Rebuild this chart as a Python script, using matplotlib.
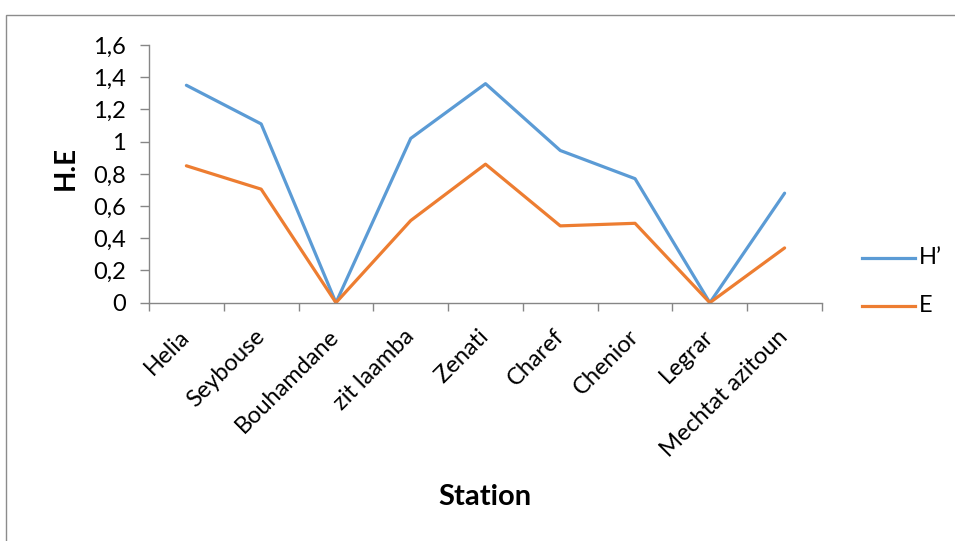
import matplotlib
matplotlib.use("Agg")
import matplotlib.pyplot as plt
from matplotlib.patches import Rectangle
from matplotlib.lines import Line2D
import numpy as np

stations = ["Helia", "Seybouse", "Bouhamdane", "zit laamba", "Zenati",
            "Charef", "Chenior", "Legrar", "Mechtat azitoun"]
h_prime = [1.35, 1.11, 0.0, 1.02, 1.36, 0.945, 0.77, 0.0, 0.68]
evenness = [0.85, 0.705, 0.0, 0.51, 0.86, 0.477, 0.493, 0.0, 0.34]
y_ticks = [0, 0.2, 0.4, 0.6, 0.8, 1.0, 1.2, 1.4, 1.6]
y_tick_labels = ["0", "0,2", "0,4", "0,6", "0,8", "1", "1,2", "1,4", "1,6"]

FONT = "Lato"
BLUE = "#5B9BD5"
ORANGE = "#ED7D31"
AXIS_GREY = "#868686"
TICK_FS = 17

W, H = 955, 541
fig = plt.figure(figsize=(W / 100, H / 100), dpi=100)
ax = fig.add_axes([149 / W, 1 - 302.7 / H, (822 - 149) / W, (302.7 - 45) / H])

x = np.arange(len(stations)) + 0.5
ax.plot(x, h_prime, color=BLUE, lw=2.3, solid_joinstyle="round", solid_capstyle="round")
ax.plot(x, evenness, color=ORANGE, lw=2.3, solid_joinstyle="round", solid_capstyle="round")

ax.set_xlim(0, len(stations))
ax.set_ylim(0, 1.6)
ax.set_yticks(y_ticks)
ax.set_yticklabels(y_tick_labels, fontname=FONT, fontsize=TICK_FS)
ax.set_xticks(np.arange(len(stations) + 1))
ax.set_xticklabels([])
ax.set_xticks(x, minor=True)
ax.set_xticklabels(stations, minor=True, rotation=45, ha="right", va="center",
                   rotation_mode="anchor", fontname=FONT, fontsize=TICK_FS)
ax.tick_params(axis="x", which="minor", length=0, pad=22)
ax.tick_params(axis="x", which="major", length=6, color=AXIS_GREY, width=1)
ax.tick_params(axis="y", length=6.5, color=AXIS_GREY, width=1, pad=10)

for side in ("top", "right"):
    ax.spines[side].set_visible(False)
for side in ("left", "bottom"):
    ax.spines[side].set_color(AXIS_GREY)
    ax.spines[side].set_linewidth(1)

fig.text(66 / W, 1 - 168 / H, "H.E", rotation=90, ha="center", va="center",
         fontname=FONT, fontweight="bold", fontsize=20)
fig.text(485 / W, 1 - 497 / H, "Station", ha="center", va="center",
         fontname=FONT, fontweight="bold", fontsize=21)

# legend entries on the right
for yy, col, lab in [(258, BLUE, "H\u2019"), (305.5, ORANGE, "E")]:
    fig.add_artist(Line2D([862 / W, 915 / W], [1 - yy / H, 1 - yy / H],
                          color=col, lw=2.3, transform=fig.transFigure))
    fig.text(919 / W, 1 - yy / H, lab, ha="left", va="center",
             fontname=FONT, fontsize=TICK_FS)

# chart area border
fig.add_artist(Rectangle((6 / W, -0.1), 1.2, 1 - 15 / H + 0.1, fill=False,
                         edgecolor="#8c8c8c", lw=1, transform=fig.transFigure))

fig.savefig("out.png", dpi=100)
